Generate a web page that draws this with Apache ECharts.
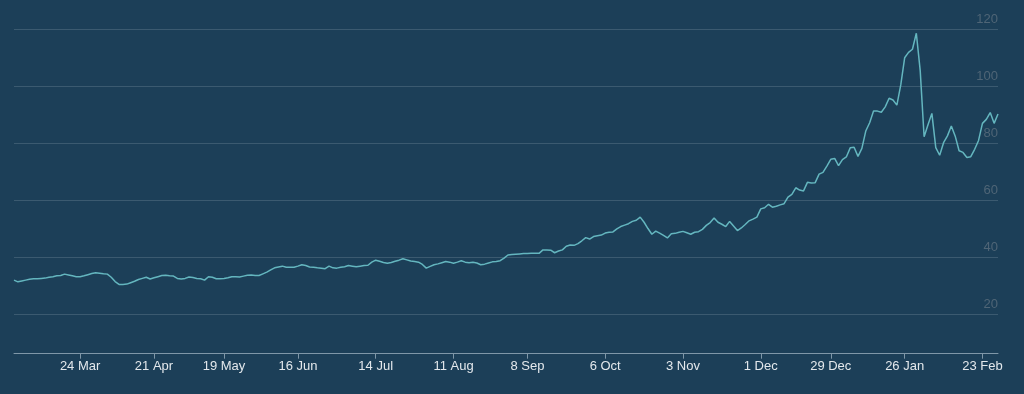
<!DOCTYPE html>
<html>
<head>
<meta charset="utf-8">
<script src="https://cdn.jsdelivr.net/npm/echarts@6/dist/echarts.min.js"></script>
<style>
html,body{margin:0;padding:0;background:#1c3f58;}
#chart{width:1024px;height:394px;}
</style>
</head>
<body>
<div id="chart"></div>
<script>
// Trading calendar (LSE): weekdays between these dates, minus holidays
const startDate = '2019-02-28';
const endDate = '2020-02-28';
const holidays = ['2019-04-19','2019-04-22','2019-05-06','2019-05-27','2019-08-26','2019-12-25','2019-12-26','2020-01-01'];

// Tick positions (Sundays) and their labels
const tickDates = ['2019-03-24','2019-04-21','2019-05-19','2019-06-16','2019-07-14','2019-08-11','2019-09-08','2019-10-06','2019-11-03','2019-12-01','2019-12-29','2020-01-26','2020-02-23'];
const tickLabels = ['24 Mar','21 Apr','19 May','16 Jun','14 Jul','11 Aug','8 Sep','6 Oct','3 Nov','1 Dec','29 Dec','26 Jan','23 Feb'];

// Daily closing values (one per trading day)
const values = [
32.0,31.4,31.7,32.0,32.3,32.5,32.5,32.6,32.7,33.0,33.2,33.5,33.6,34.1,33.8,33.5,33.2,33.2,33.5,33.9,
34.3,34.6,34.4,34.2,34.1,33.0,31.5,30.5,30.5,30.6,31.1,31.6,32.2,32.6,33.0,32.4,32.8,33.2,33.6,33.7,
33.5,33.4,32.6,32.4,32.6,33.1,32.9,32.6,32.5,32.0,33.2,33.0,32.5,32.5,32.6,32.8,33.2,33.2,33.1,33.4,
33.7,33.8,33.6,33.6,34.2,34.8,35.6,36.3,36.6,36.9,36.5,36.5,36.5,36.9,37.4,37.1,36.6,36.5,36.3,36.2,
36.0,36.9,36.3,36.2,36.5,36.7,37.1,36.9,36.7,36.9,37.1,37.2,38.3,39.0,38.6,38.2,37.9,38.2,38.6,39.0,
39.5,39.1,38.7,38.5,38.3,37.5,36.2,36.8,37.4,37.7,38.1,38.5,38.3,37.9,38.3,38.8,38.3,38.1,38.3,38.0,
37.4,37.6,38.0,38.4,38.5,38.8,39.7,40.8,41.0,41.1,41.2,41.3,41.3,41.4,41.4,41.4,42.6,42.6,42.5,41.6,
42.2,42.6,43.9,44.3,44.2,44.8,45.8,46.9,46.4,47.3,47.6,47.8,48.5,48.8,48.9,50.0,50.8,51.3,51.8,52.6,
53.0,54.1,52.3,50.1,48.1,49.2,48.5,47.7,46.8,48.3,48.4,48.8,49.1,48.6,48.1,48.8,49.0,49.8,51.2,52.2,
53.8,52.3,51.6,50.8,52.6,51.0,49.4,50.3,51.5,52.8,53.4,54.1,57.0,57.4,58.6,57.6,57.9,58.4,58.8,61.1,
62.1,64.4,63.6,63.3,66.3,66.1,66.2,69.2,69.8,72.0,74.4,74.7,72.2,74.3,75.2,78.4,78.6,75.4,78.2,84.3,
87.2,91.3,91.3,90.9,92.8,95.8,95.2,93.4,100.5,110.0,111.9,113.0,118.6,105.5,82.3,86.5,90.5,78.5,75.8,80.2,
82.6,86.1,82.5,77.4,76.8,75.0,75.3,77.9,81.0,87.0,88.4,90.8,87.0,90.3
];

// Build trading-day categories
function fmt(d){
  const m = String(d.getUTCMonth()+1).padStart(2,'0');
  const day = String(d.getUTCDate()).padStart(2,'0');
  return d.getUTCFullYear()+'-'+m+'-'+day;
}
const categories = [];
for (let d = new Date(startDate+'T00:00:00Z'); fmt(d) <= endDate; d.setUTCDate(d.getUTCDate()+1)) {
  const wd = d.getUTCDay();
  const s = fmt(d);
  if (wd === 0 || wd === 6 || holidays.indexOf(s) >= 0) continue;
  categories.push(s);
}
// Map each tick date to the first trading day on/after it
const tickMap = {};
tickDates.forEach(function(t, k){
  for (let i = 0; i < categories.length; i++) {
    if (categories[i] >= t) { tickMap[i] = tickLabels[k]; break; }
  }
});

const chart = echarts.init(document.getElementById('chart'), null, {renderer:'canvas'});
const font = "'Liberation Sans', Arial, Helvetica, sans-serif";
chart.setOption({
  backgroundColor: '#1c3f58',
  animation: false,
  grid: {left: 14, right: 26, top: 29.3, bottom: 40.3, containLabel: false},
  xAxis: {
    type: 'category',
    data: categories,
    boundaryGap: false,
    axisLine: {show: true, lineStyle: {color: '#7f97a8', width: 1}},
    axisTick: {show: true, length: 5, lineStyle: {color: '#7f97a8'},
      interval: function(i){ return tickMap.hasOwnProperty(i); }},
    axisLabel: {
      color: '#e3e8ec', fontSize: 13, fontFamily: font, margin: 6,
      interval: function(i){ return tickMap.hasOwnProperty(i); },
      formatter: function(v, i){ return tickMap[i] || ''; }
    },
    splitLine: {show: false}
  },
  yAxis: {
    type: 'value',
    position: 'right',
    min: 6.18,
    max: 120,
    splitNumber: 5,
    axisLine: {show: false},
    axisTick: {show: false},
    axisLabel: {
      inside: true, margin: 0, color: '#4f6576', fontSize: 13, fontFamily: font,
      verticalAlign: 'bottom', padding: [0,0,3,0],
      showMinLabel: false
    },
    splitLine: {show: true, lineStyle: {color: '#3b5a70', width: 1}}
  },
  series: [{
    type: 'line',
    data: values,
    symbol: 'none',
    lineStyle: {color: '#64b6bf', width: 1.5},
    itemStyle: {color: '#64b6bf'}
  }]
});
</script>
</body>
</html>
